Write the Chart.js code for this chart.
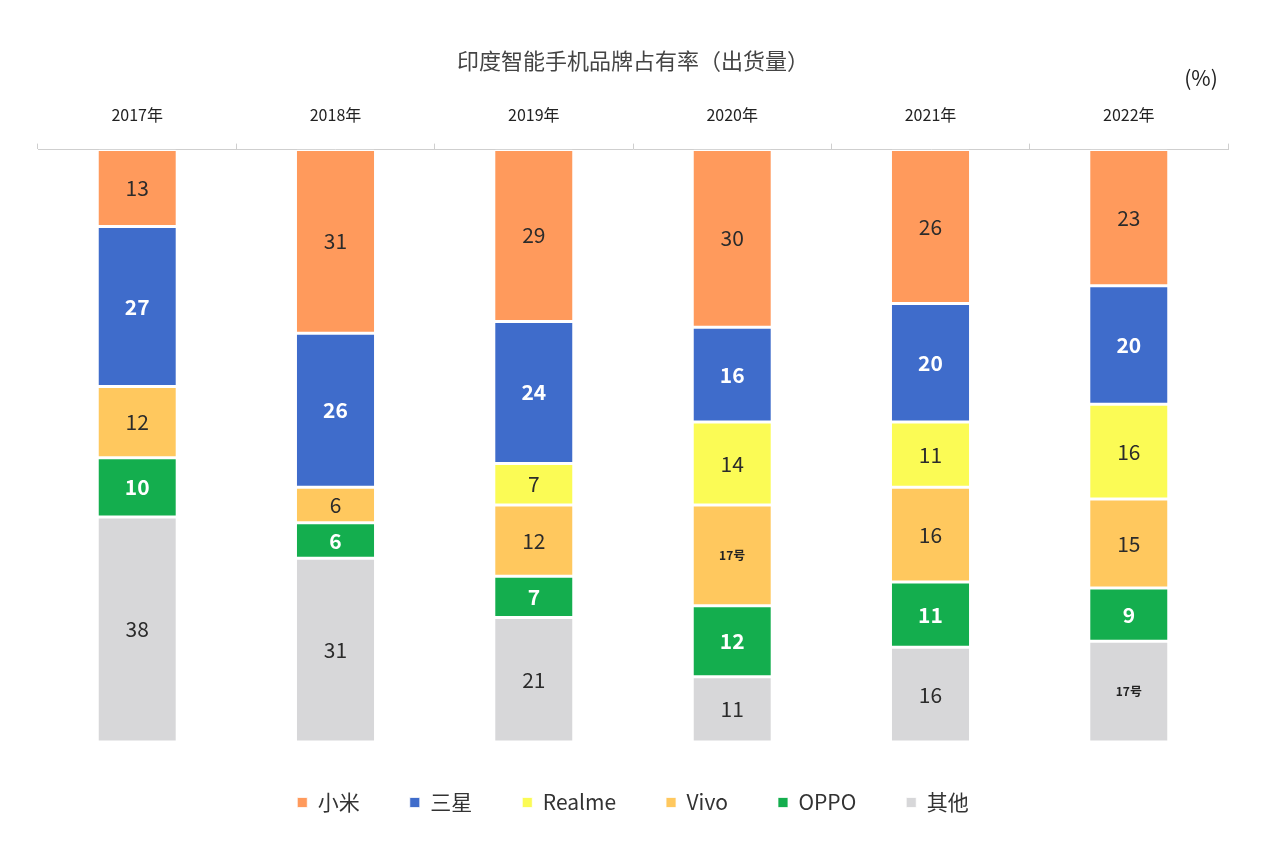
<!DOCTYPE html>
<html>
<head>
<meta charset="utf-8">
<script src="https://cdn.jsdelivr.net/npm/chart.js@4.4.1/dist/chart.umd.min.js"></script>
<style>
  html, body { margin: 0; padding: 0; background: #fff; }
  #wrap { width: 1270px; height: 854px; position: relative; }
</style>
</head>
<body>
<div id="wrap"><canvas id="c" width="1270" height="854"></canvas></div>
<script>
// ---- data ----
const years = ['2017年', '2018年', '2019年', '2020年', '2021年', '2022年'];
const xiaomi  = [13, 31, 29, 30, 26, 23];
const samsung = [27, 26, 24, 16, 20, 20];
const realme  = [0, 0, 7, 14, 11, 16];
const vivo    = [12, 6, 12, 17, 16, 15];
const oppo    = [10, 6, 7, 12, 11, 9];
const others  = [38, 31, 21, 11, 16, 17];
// labels printed oddly in the source picture
const vivoLabelText   = [null, null, null, '17号', null, null];
const othersLabelText = [null, null, null, null, null, '17号'];
const titleText = '印度智能手机品牌占有率（出货量）';
const unitText = '(%)';

const FONT = '"Noto Sans CJK SC", "Noto Sans", sans-serif';

function ds(label, data, color, labelColor, bold, textOverride) {
  return {
    label, data,
    backgroundColor: color,
    borderColor: '#ffffff',
    borderWidth: { top: 1.5, bottom: 1.5, left: 0, right: 0 },
    borderSkipped: false,
    labelColor, labelBold: bold, textOverride
  };
}

const datasets = [
  ds('小米', xiaomi, '#FF9A5C', '#2b2b2b', false, null),
  ds('三星', samsung, '#3F6CCB', '#ffffff', true, null),
  ds('Realme', realme, '#FBFB55', '#2b2b2b', false, null),
  ds('Vivo', vivo, '#FFC85E', '#2b2b2b', false, vivoLabelText),
  ds('OPPO', oppo, '#14AE4E', '#ffffff', true, null),
  ds('其他', others, '#D7D7D9', '#2b2b2b', false, othersLabelText)
];

const labelPlugin = {
  id: 'segLabels',
  afterDatasetsDraw(chart) {
    const ctx = chart.ctx;
    ctx.save();
    ctx.textAlign = 'center';
    ctx.textBaseline = 'middle';
    chart.data.datasets.forEach((d, di) => {
      const meta = chart.getDatasetMeta(di);
      meta.data.forEach((el, i) => {
        const v = d.data[i];
        if (!v) return;
        const p = el.getProps(['x', 'y', 'base'], true);
        const cy = (p.y + p.base) / 2;
        const ov = d.textOverride ? d.textOverride[i] : null;
        if (ov) {
          ctx.font = 'bold 12px ' + FONT;
          ctx.fillStyle = '#222';
          ctx.fillText(ov, p.x, cy);
        } else {
          ctx.font = (d.labelBold ? 'bold ' : '') + '21px ' + FONT;
          ctx.fillStyle = d.labelColor;
          ctx.fillText(String(v), p.x, cy);
        }
      });
    });
    ctx.restore();
  },
  afterDraw(chart) {
    const ctx = chart.ctx;
    ctx.save();
    ctx.font = '21px ' + FONT;
    ctx.fillStyle = '#222';
    ctx.textAlign = 'center';
    ctx.textBaseline = 'middle';
    ctx.fillText(unitText, 1201, 78);
    ctx.restore();
  }
};

new Chart(document.getElementById('c'), {
  type: 'bar',
  data: { labels: years, datasets },
  options: {
    responsive: false,
    animation: false,
    layout: { padding: { top: 30, left: 38, right: 42, bottom: 31 } },
    datasets: { bar: { categoryPercentage: 1, barPercentage: 0.39 } },
    scales: {
      x: {
        stacked: true,
        position: 'top',
        grid: { display: true, drawOnChartArea: false, drawTicks: true, tickLength: 6, offset: true, color: '#cfcfcf' },
        border: { display: true, color: '#cfcfcf' },
        ticks: { color: '#222', font: { family: FONT, size: 16 }, padding: 19 }
      },
      y: {
        stacked: true,
        reverse: true,
        min: 0, max: 100,
        display: false
      }
    },
    plugins: {
      title: {
        display: true,
        text: titleText,
        color: '#444',
        font: { family: FONT, size: 22, weight: 'normal' },
        padding: { top: 17, bottom: 13 }
      },
      legend: {
        position: 'bottom',
        labels: {
          boxWidth: 10, boxHeight: 10,
          color: '#333',
          font: { family: FONT, size: 21 },
          padding: 50
        }
      },
      tooltip: { enabled: false }
    }
  },
  plugins: [labelPlugin]
});
</script>
</body>
</html>
